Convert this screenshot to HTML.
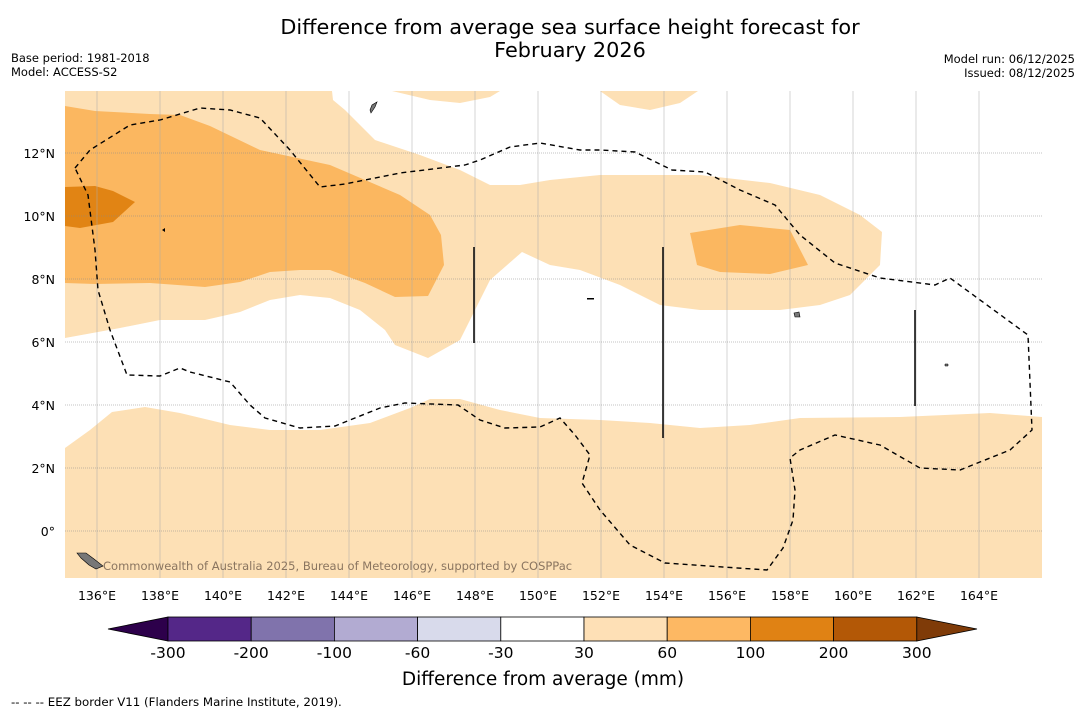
<!DOCTYPE html>
<html><head><meta charset="utf-8">
<style>
body{margin:0;background:#fff;font-family:"DejaVu Sans","Liberation Sans",sans-serif;}
#wrap{position:relative;width:1085px;height:713px;overflow:hidden;background:#fff}
</style></head>
<body>
<div id="wrap">
<svg id="svg" width="1085" height="713" xmlns="http://www.w3.org/2000/svg" font-family="DejaVu Sans, Liberation Sans, sans-serif">
<text x="570" y="34" text-anchor="middle" font-size="20.8">Difference from average sea surface height forecast for</text>
<text x="570" y="57" text-anchor="middle" font-size="20.8">February 2026</text>
<text x="11" y="62" font-size="11.5">Base period: 1981-2018</text>
<text x="11" y="76" font-size="11.5">Model: ACCESS-S2</text>
<text x="1075" y="63" font-size="11.5" text-anchor="end">Model run: 06/12/2025</text>
<text x="1075" y="77" font-size="11.5" text-anchor="end">Issued: 08/12/2025</text>
<defs><clipPath id="mapclip"><rect x="65" y="91" width="977" height="487"/></clipPath></defs>
<g id="map" clip-path="url(#mapclip)">
  <path fill="#fde0b5" d="M65,91 L332,91 L333,100 L345,110 L375,140 L420,155 L460,170 L490,185 L520,185 L550,180 L600,175 L700,175 L770,183 L820,195 L860,215 L882,232 L880,265 L850,295 L820,305 L780,310 L700,310 L660,305 L620,285 L580,270 L550,265 L522,252 L490,280 L460,340 L428,358 L395,345 L385,330 L360,310 L330,298 L300,295 L270,300 L240,312 L205,320 L160,320 L120,328 L65,338 Z"/>
  <path fill="#fde0b5" d="M392,91 L500,91 L490,97 L460,103 L430,100 Z"/>
  <path fill="#fde0b5" d="M600,91 L698,91 L680,103 L650,110 L620,105 Z"/>
  <path fill="#fbb760" d="M65,106 L95,111 L150,114 L180,115 L210,126 L260,150 L330,165 L400,195 L430,215 L441,235 L444,265 L428,296 L395,297 L365,283 L330,270 L300,270 L270,272 L240,282 L205,287 L150,283 L95,284 L65,283 Z"/>
  <path fill="#e18414" d="M65,187 L95,186 L113,191 L135,202 L113,222 L80,228 L65,226 Z"/>
  <path fill="#fbb760" d="M690,233 L740,225 L790,230 L808,265 L770,274 L720,272 L697,265 Z"/>
  <path fill="#fde0b5" d="M65,448 L90,430 L112,412 L145,407 L180,413 L230,425 L270,430 L320,430 L370,423 L410,408 L430,399 L460,399 L500,410 L540,418 L600,420 L650,423 L700,428 L750,425 L800,418 L900,417 L990,413 L1042,417 L1042,578 L65,578 Z"/>
  <g id="grid"></g>
  <path fill="none" stroke="#000" stroke-width="1.4" stroke-dasharray="5,4" d="M75,168 L90,150 L130,125 L160,120 L200,108 L230,110 L260,118 L290,150 L320,187 L345,184 L400,173 L465,165 L480,160 L510,147 L540,143 L580,150 L600,150 L635,152 L672,170 L705,172 L740,190 L775,205 L800,235 L835,263 L880,278 L935,285 L950,278 L1028,335 L1032,430 L1010,450 L960,470 L920,468 L880,445 L835,435 L800,450 L790,458 L795,490 L793,520 L783,548 L767,570 L665,563 L630,545 L600,510 L582,483 L590,455 L575,435 L560,418 L540,427 L505,428 L480,420 L458,405 L405,403 L380,408 L335,426 L300,428 L265,418 L250,405 L230,382 L190,372 L180,368 L160,376 L127,375 L110,330 L98,290 L95,250 L88,195 L75,168"/>
  <line x1="474" y1="247" x2="474" y2="343" stroke="#000" stroke-width="1.5"/>
  <line x1="663" y1="247" x2="663" y2="438" stroke="#000" stroke-width="1.5"/>
  <line x1="915" y1="310" x2="915" y2="406" stroke="#000" stroke-width="1.5"/>
  <path fill="#777" stroke="#000" stroke-width="0.6" d="M370,110 L372,105 L377,102 L375,107 L371,113 Z"/>
  <path fill="#777" stroke="#000" stroke-width="0.6" d="M77,553 L86,553 L94,559 L103,566 L96,569 L89,565 L81,558 Z"/>
  <path fill="#777" stroke="#000" stroke-width="0.6" d="M794,313 L799,312 L800,317 L795,317 Z"/>
  <path fill="#000" d="M587,298 h7 v1.5 h-7 Z"/>
  <path fill="#000" d="M162,230 l3,-2 l0,4 Z"/>
  <path fill="#777" stroke="#000" stroke-width="0.5" d="M945,364 h3 v2 h-3 Z"/>
  <text x="103" y="570" font-size="11.5" fill="#8a7560">Commonwealth of Australia 2025, Bureau of Meteorology, supported by COSPPac</text>
</g>
<g id="axes"></g>
<g id="cbar"></g>
<text x="543" y="685" text-anchor="middle" font-size="18.5">Difference from average (mm)</text>
<text x="11" y="706" font-size="11.8">--  --  -- EEZ border V11 (Flanders Marine Institute, 2019).</text>
</svg>
</div>
<script>
const lonTicks=[136,138,140,142,144,146,148,150,152,154,156,158,160,162,164];
const latTicks=[0,2,4,6,8,10,12];
const cbLevels=[-300,-200,-100,-60,-30,30,60,100,200,300];
const cbColors=["#542788","#8073ac","#b2abd2","#d8daeb","#ffffff","#fee0b6","#fdb863","#e08214","#b35806"];
const cbExtLow="#2d004b", cbExtHigh="#7f3b08";
const NS="http://www.w3.org/2000/svg";
const xLon=l=>65.5+(l-135)*31.5;
const yLat=a=>531-a*31.5;
function mk(tag,attrs,parent){const e=document.createElementNS(NS,tag);for(const k in attrs)e.setAttribute(k,attrs[k]);parent.appendChild(e);return e;}
const grid=document.getElementById('grid'),axes=document.getElementById('axes');
lonTicks.forEach(l=>{
  const ln=mk('line',{x1:xLon(l),x2:xLon(l),y1:91,y2:578,stroke:'#aaa','stroke-width':0.5},grid);
  
  
  const t=mk('text',{x:xLon(l),y:600,'text-anchor':'middle','font-size':12.5},axes);
  t.textContent=l+'°E';
  
  
});
latTicks.forEach(a=>{
  const ln=mk('line',{x1:65,x2:1042,y1:yLat(a),y2:yLat(a),stroke:'#888','stroke-width':0.6,'stroke-dasharray':'1,1'},grid);
  
  
  const t=mk('text',{x:55,y:yLat(a)+5,'text-anchor':'end','font-size':12.5},axes);
  t.textContent=a===0?'0°':a+'°N';
  
  
});
const cb=document.getElementById('cbar');
const cx0=168,cw=83.2,cy=617,ch=24;
const lo=mk('polygon',{points:`108,${cy+ch/2} ${cx0},${cy} ${cx0},${cy+ch}`,fill:cbExtLow,stroke:'#000','stroke-width':0.8},cb);


cbColors.forEach((c,i)=>{
  const r=mk('rect',{x:cx0+i*cw,y:cy,width:cw,height:ch,fill:c,stroke:'#000','stroke-width':0.8},cb);
  
  
});
const xe=cx0+cbColors.length*cw;
const hi=mk('polygon',{points:`${xe},${cy} 977,${cy+ch/2} ${xe},${cy+ch}`,fill:cbExtHigh,stroke:'#000','stroke-width':0.8},cb);


cbLevels.forEach((v,i)=>{
  const t=mk('text',{x:cx0+i*cw,y:658,'text-anchor':'middle','font-size':15.5},cb);
  t.textContent=v;
  
  
});
</script>
</body></html>
